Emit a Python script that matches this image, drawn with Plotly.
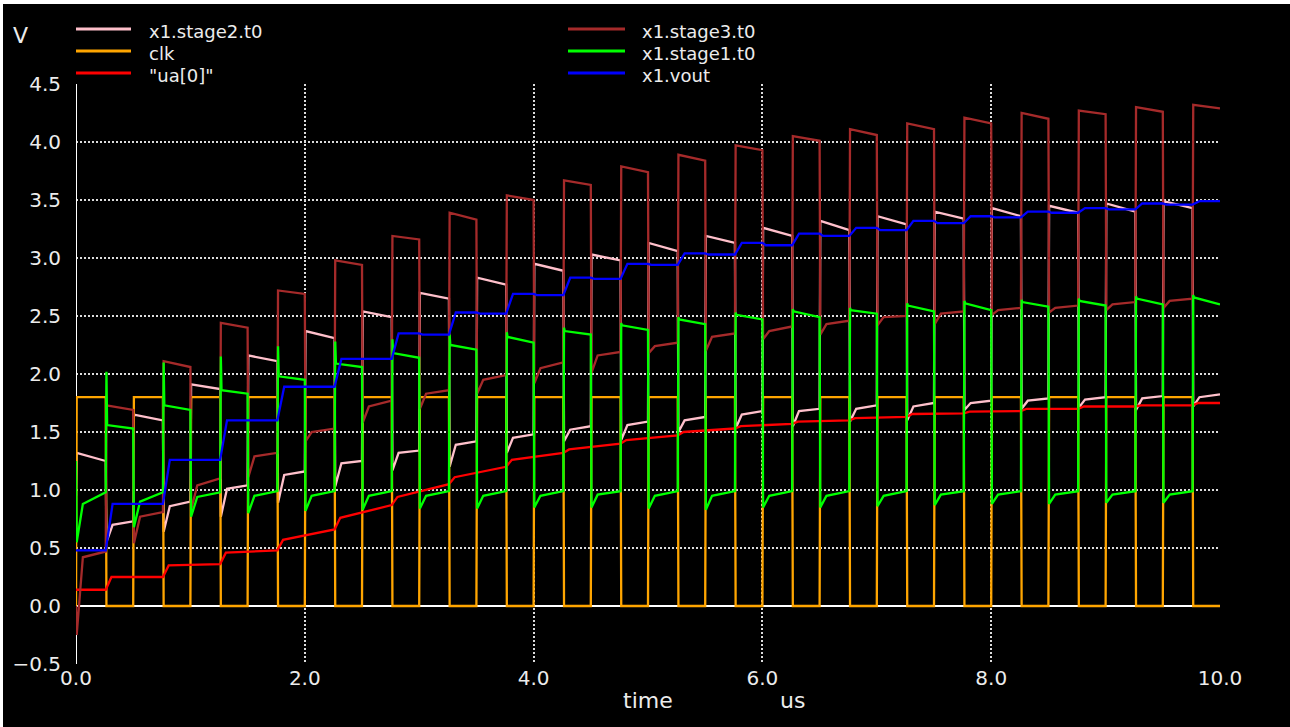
import plotly.graph_objects as go

# ---------------- data ----------------
cycle_start = [0.0, 0.5, 1.0, 1.5, 2.0, 2.5, 3.0, 3.5, 4.0, 4.5,
               5.0, 5.5, 6.0, 6.5, 7.0, 7.5, 8.0, 8.5, 9.0, 9.5]
clk_fall = [0.26, 0.76, 1.26, 1.76, 2.26, 2.76, 3.26, 3.76, 4.26, 4.76,
            5.26, 5.76, 6.26, 6.76, 7.26, 7.76, 8.26, 8.76, 9.26, 9.76]
t_stop = 10.0
clk_high = 1.8
clk_low = 0.0

# x1.stage1.t0 (green): low while clk high, high while clk low
s1_init = 1.25
s1_lo_start = [0.55, 0.68, 0.77, 0.80, 0.82, 0.83, 0.84, 0.84, 0.85, 0.85,
               0.84, 0.83, 0.85, 0.85, 0.86, 0.87, 0.88, 0.88, 0.89, 0.89]
s1_lo_knee = [0.88, 0.90, 0.94, 0.95, 0.95, 0.95, 0.95, 0.95, 0.95, 0.96,
              0.95, 0.95, 0.95, 0.95, 0.95, 0.96, 0.96, 0.96, 0.96, 0.96]
s1_lo_end = [0.98, 0.98, 0.98, 0.99, 0.99, 0.99, 0.99, 0.99, 0.99, 0.99,
             0.99, 0.99, 0.99, 0.99, 0.99, 0.99, 0.99, 0.99, 0.99, 0.99]
s1_hi_spike = [2.02, 2.10, 2.15, 2.24, 2.28, 2.30, 2.34, 2.36, 2.40, 2.44,
               2.49, 2.53, 2.56, 2.57, 2.61, 2.63, 2.64, 2.65, 2.67, 2.68]
s1_hi_start = [1.56, 1.73, 1.86, 1.98, 2.09, 2.18, 2.25, 2.32, 2.37, 2.42,
               2.47, 2.51, 2.54, 2.55, 2.59, 2.61, 2.62, 2.63, 2.65, 2.66]
s1_hi_end = [1.53, 1.69, 1.83, 1.95, 2.06, 2.14, 2.21, 2.27, 2.34, 2.38,
             2.43, 2.47, 2.49, 2.52, 2.54, 2.55, 2.58, 2.59, 2.60, 2.60]

# x1.stage2.t0 (pink): high while clk high, low while clk low
s2_init = 0.95
s2_hi_start = [1.32, 1.65, 1.91, 2.16, 2.37, 2.54, 2.70, 2.83, 2.95, 3.03,
               3.13, 3.19, 3.26, 3.32, 3.36, 3.40, 3.43, 3.45, 3.47, 3.49]
s2_hi_end = [1.25, 1.60, 1.87, 2.11, 2.31, 2.49, 2.65, 2.77, 2.89, 2.98,
             3.06, 3.13, 3.19, 3.24, 3.29, 3.34, 3.36, 3.39, 3.40, 3.43]
s2_lo_start = [0.55, 0.64, 0.77, 0.89, 1.03, 1.17, 1.20, 1.32, 1.42, 1.43,
               1.50, 1.53, 1.55, 1.59, 1.60, 1.69, 1.70, 1.71, 1.69, 1.72]
s2_lo_knee = [0.70, 0.86, 1.01, 1.13, 1.23, 1.32, 1.39, 1.45, 1.52, 1.56,
              1.60, 1.65, 1.68, 1.70, 1.72, 1.75, 1.77, 1.78, 1.79, 1.80]
s2_lo_end = [0.73, 0.90, 1.04, 1.16, 1.25, 1.34, 1.42, 1.48, 1.55, 1.59,
             1.63, 1.68, 1.70, 1.73, 1.75, 1.77, 1.79, 1.80, 1.81, 1.825]

# x1.stage3.t0 (brown): low while clk high, high while clk low
s3_init = 0.0
s3_lo_start = [-0.25, 0.54, 0.83, 1.11, 1.42, 1.58, 1.70, 1.83, 1.92, 2.01,
               2.18, 2.20, 2.30, 2.34, 2.42, 2.43, 2.51, 2.53, 2.55, 2.57]
s3_lo_knee = [0.42, 0.77, 1.04, 1.29, 1.50, 1.72, 1.83, 1.95, 2.05, 2.16,
              2.24, 2.32, 2.37, 2.43, 2.49, 2.52, 2.55, 2.57, 2.60, 2.63]
s3_lo_end = [0.47, 0.81, 1.10, 1.32, 1.53, 1.77, 1.86, 1.99, 2.10, 2.19,
             2.27, 2.35, 2.41, 2.46, 2.50, 2.54, 2.57, 2.59, 2.62, 2.65]
s3_hi_start = [1.73, 2.11, 2.44, 2.72, 2.98, 3.19, 3.39, 3.54, 3.67, 3.79,
               3.89, 3.97, 4.05, 4.11, 4.16, 4.21, 4.25, 4.27, 4.30, 4.32]
s3_hi_end = [1.69, 2.06, 2.40, 2.69, 2.94, 3.16, 3.33, 3.50, 3.63, 3.74,
             3.84, 3.93, 4.01, 4.06, 4.11, 4.16, 4.20, 4.24, 4.26, 4.29]

# x1.vout (blue): level before / after each step at the clk falling edge
vout_pre = [0.48, 0.88, 1.26, 1.60, 1.89, 2.13, 2.34, 2.52, 2.68, 2.82,
            2.94, 3.03, 3.11, 3.19, 3.24, 3.30, 3.35, 3.39, 3.42, 3.46]
vout_post = [0.88, 1.26, 1.60, 1.89, 2.13, 2.35, 2.53, 2.69, 2.83, 2.95,
             3.04, 3.13, 3.21, 3.26, 3.32, 3.36, 3.40, 3.43, 3.47, 3.49]

# "ua[0]" (red)
ua0_init = 0.14
ua0_pre = [0.14, 0.25, 0.36, 0.48, 0.66, 0.87, 1.05, 1.20, 1.32, 1.40,
           1.47, 1.53, 1.57, 1.60, 1.63, 1.66, 1.68, 1.70, 1.72, 1.73]
ua0_post = [0.25, 0.35, 0.46, 0.57, 0.76, 0.94, 1.11, 1.26, 1.35, 1.43,
            1.50, 1.55, 1.59, 1.62, 1.655, 1.675, 1.70, 1.72, 1.73, 1.75]
ua0_final = 1.75

x_ticks = [0, 2, 4, 6, 8, 10]
y_ticks = [-0.5, 0.0, 0.5, 1.0, 1.5, 2.0, 2.5, 3.0, 3.5, 4.0, 4.5]

# ---------------- waveform assembly ----------------
EDGE = 0.006
KNEE = 0.06
N = len(cycle_start)


def seg_end(k):
    return cycle_start[k + 1] if k + 1 < N else t_stop


def two_phase(init, a_vals, b_vals, b_spike=None):
    t, v = [0.0], [init]
    for k in range(N):
        t0, tf, t1 = cycle_start[k], clk_fall[k], seg_end(k)
        a = [arr[k] for arr in a_vals]
        if len(a) == 3:
            t += [t0 + EDGE, t0 + KNEE, tf]
        else:
            t += [t0 + EDGE, tf]
        v += a
        if b_spike is not None:
            t += [tf + EDGE]
            v += [b_spike[k]]
            off = 2 * EDGE
        else:
            off = EDGE
        b = [arr[k] for arr in b_vals]
        if len(b) == 3:
            t += [tf + off, tf + KNEE, t1]
        else:
            t += [tf + off, t1]
        v += b
    return t, v


t_s1, v_s1 = two_phase(s1_init, [s1_lo_start, s1_lo_knee, s1_lo_end],
                       [s1_hi_start, s1_hi_end], b_spike=s1_hi_spike)
t_s2, v_s2 = two_phase(s2_init, [s2_hi_start, s2_hi_end],
                       [s2_lo_start, s2_lo_knee, s2_lo_end])
t_s3, v_s3 = two_phase(s3_init, [s3_lo_start, s3_lo_knee, s3_lo_end],
                       [s3_hi_start, s3_hi_end])

t_clk, v_clk = [0.0], [clk_low]
for k in range(N):
    t_clk += [cycle_start[k] + EDGE, clk_fall[k], clk_fall[k] + EDGE, seg_end(k)]
    v_clk += [clk_high, clk_high, clk_low, clk_low]

t_out, v_out = [0.0], [vout_pre[0]]
for k in range(N):
    if k > 0:
        t_out += [cycle_start[k] + 0.03]
        v_out += [vout_pre[k]]
    t_out += [clk_fall[k], clk_fall[k] + 0.06, seg_end(k)]
    v_out += [vout_pre[k], vout_post[k], vout_post[k]]

t_ua, v_ua = [0.0], [ua0_init]
for k in range(N):
    t_ua += [clk_fall[k], clk_fall[k] + 0.05]
    v_ua += [ua0_pre[k], ua0_post[k]]
t_ua += [t_stop]
v_ua += [ua0_final]

series = [
    ("x1.stage2.t0", t_s2, v_s2, "#ffc0cb"),
    ("clk", t_clk, v_clk, "#ffa500"),
    ('"ua[0]"', t_ua, v_ua, "#ff0000"),
    ("x1.stage3.t0", t_s3, v_s3, "#a52a2a"),
    ("x1.stage1.t0", t_s1, v_s1, "#00ff00"),
    ("x1.vout", t_out, v_out, "#0000ff"),
]

fig = go.Figure()
for name, tt, vv, col in series:
    fig.add_trace(go.Scatter(x=tt, y=vv, mode="lines", name=name,
                             line=dict(color=col, width=2.3), showlegend=False))

# ---------------- layout ----------------
W, H = 1290, 727
L, R, T, B = 76, 70, 84, 63
PW, PH = W - L - R, H - T - B


def px(x):
    return (x - L) / PW


def py(y):
    return (H - B - y) / PH


FONT = "DejaVu Sans"
shapes = [
    # black canvas; thin white strip only on top and left edges
    dict(type="rect", xref="paper", yref="paper", x0=px(3), x1=px(1300),
         y0=py(740), y1=py(4), fillcolor="black", line=dict(width=0), layer="below"),
    # solid axes
    dict(type="line", xref="x", yref="y", x0=0, x1=10, y0=0, y1=0,
         line=dict(color="white", width=2), layer="between"),
    dict(type="line", xref="x", yref="y", x0=0, x1=0, y0=-0.5, y1=4.5,
         line=dict(color="white", width=2), layer="between"),
]
annotations = []
legend_rows = [
    ("x1.stage2.t0", "#ffc0cb", 0, 0), ("clk", "#ffa500", 0, 1), ('"ua[0]"', "#ff0000", 0, 2),
    ("x1.stage3.t0", "#a52a2a", 1, 0), ("x1.stage1.t0", "#00ff00", 1, 1), ("x1.vout", "#0000ff", 1, 2),
]
col_x = [(76, 131, 148), (568, 625, 641)]
row_y = [29, 51, 73]
for name, col, c, r in legend_rows:
    x0, x1, xt = col_x[c]
    shapes.append(dict(type="line", xref="paper", yref="paper", x0=px(x0), x1=px(x1),
                       y0=py(row_y[r]), y1=py(row_y[r]), line=dict(color=col, width=3)))
    annotations.append(dict(text=name, xref="paper", yref="paper", x=px(xt), y=py(row_y[r] + 2),
                            xanchor="left", yanchor="middle", showarrow=False, borderpad=0,
                            font=dict(family=FONT, size=18, color="#ececec")))

for txt, x, y in [("V", 20, 35), ("time", 648, 700), ("us", 792, 700)]:
    annotations.append(dict(text=txt, xref="paper", yref="paper", x=px(x), y=py(y),
                            xanchor="center", yanchor="middle", showarrow=False,
                            font=dict(family=FONT, size=22, color="#ececec")))

grid = dict(showgrid=True, gridcolor="#dcdcdc", gridwidth=1.5, griddash="2px,2px",
            zeroline=False, showline=False, ticks="", ticklen=0,
            tickfont=dict(family=FONT, size=20, color="#ececec"), tickformat=".1f")

fig.update_layout(
    width=W, height=H, autosize=False,
    margin=dict(l=L, r=R, t=T, b=B, pad=0),
    paper_bgcolor="white", plot_bgcolor="black",
    shapes=shapes, annotations=annotations, showlegend=False,
    xaxis=dict(range=[0, 10], tickvals=x_ticks, ticklabelstandoff=0, **grid),
    yaxis=dict(range=[-0.5, 4.5], tickvals=y_ticks, ticklabelstandoff=14, **grid),
)

fig.write_html("out.html", config={"displayModeBar": False},
               post_script="document.body.style.margin='0';document.body.style.overflow='hidden';")
